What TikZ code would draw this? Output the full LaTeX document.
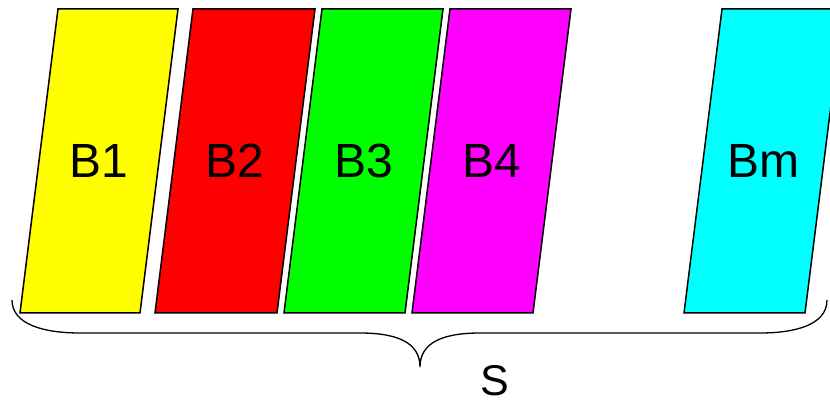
\documentclass[tikz,border=0pt]{standalone}
\usepackage{fontspec}
\setmainfont{Liberation Sans}

\definecolor{byellow}{RGB}{255,255,0}
\definecolor{bred}{RGB}{255,0,0}
\definecolor{bgreen}{RGB}{0,255,0}
\definecolor{bmagenta}{RGB}{255,0,255}
\definecolor{bcyan}{RGB}{0,255,255}

\begin{document}
\begin{tikzpicture}[x=1pt, y=-1pt,
		bar/.style={draw, line width=1.5pt, line join=miter},
		barlabel/.style={font=\fontsize{48}{56}\selectfont}]
		\useasboundingbox (0,0) rectangle (830,403);

		\coordinate (left) at (12, 300);
		\coordinate (right) at (827, 300);
		\coordinate (tip) at (420, 367);

		% the blocks: bottom left x / width / colour / label
		\foreach \x/\w/\c/\l in {20/120/byellow/B1, 155/122/bred/B2, 284/121/bgreen/B3, 412/121/bmagenta/B4, 684/121/bcyan/Bm} {
			\draw [bar, fill=\c] (\x, 313) -- ++(\w, 0) -- ++(38, -304) -- ++(-\w, 0) -- cycle;
			\node [barlabel] (\l) at ({\x + \w/2 + 19}, 161) {\l};
		}

		% brace under all blocks
		\draw [line width=1.3pt] (left) .. controls (12, 325) and (45, 333) .. (80, 333) -- (360, 333)
			.. controls (398, 333) and (420, 343) .. (tip)
			.. controls (420, 343) and (442, 333) .. (480, 333) -- (760, 333)
			.. controls (795, 333) and (827, 325) .. (right);
		\node [font=\fontsize{43}{52}\selectfont, inner sep=0pt] (S) at (495, 381) {S};
	\end{tikzpicture}
\end{document}
